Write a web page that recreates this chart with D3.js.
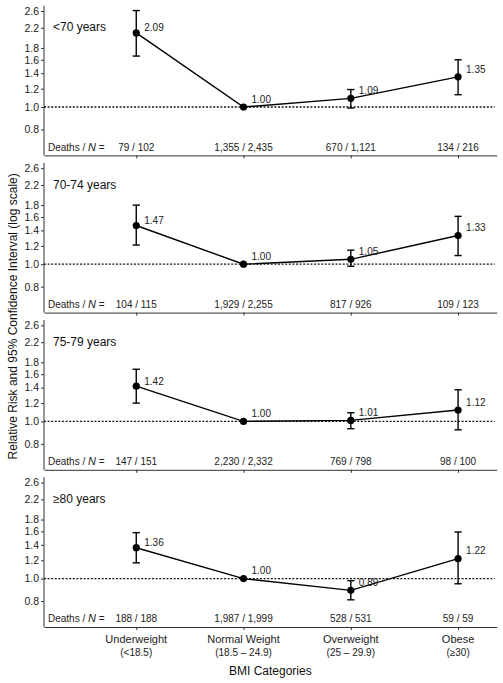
<!DOCTYPE html>
<html>
<head>
<meta charset="utf-8">
<script src="https://cdn.jsdelivr.net/npm/d3@7"></script>
<style>
  html, body { margin: 0; padding: 0; background: #fff; }
  svg { display: block; font-family: Arial, "Liberation Sans", sans-serif; }
</style>
</head>
<body>
<svg id="chart" width="503" height="683"></svg>
<script>
const categories = ["Underweight", "Normal Weight", "Overweight", "Obese"];
const categoryRanges = ["(<18.5)", "(18.5 \u2013 24.9)", "(25 \u2013 29.9)", "(\u226530)"];
const ageGroups = ["<70 years", "70-74 years", "75-79 years", "\u226580 years"];
const rr = [
  [2.09, 1.00, 1.09, 1.35],
  [1.47, 1.00, 1.05, 1.33],
  [1.42, 1.00, 1.01, 1.12],
  [1.36, 1.00, 0.89, 1.22]
];
const ciLow = [
  [1.66, 1.00, 0.99, 1.13],
  [1.21, 1.00, 0.98, 1.09],
  [1.20, 1.00, 0.93, 0.92],
  [1.17, 1.00, 0.81, 0.95]
];
const ciHigh = [
  [2.61, 1.00, 1.19, 1.60],
  [1.80, 1.00, 1.15, 1.61],
  [1.68, 1.00, 1.09, 1.37],
  [1.58, 1.00, 0.98, 1.59]
];
const deaths = [
  [79, 1355, 670, 134],
  [104, 1929, 817, 109],
  [147, 2230, 769, 98],
  [188, 1987, 528, 59]
];
const totals = [
  [102, 2435, 1121, 216],
  [115, 2255, 926, 123],
  [151, 2332, 798, 100],
  [188, 1999, 531, 59]
];
const yTicks = [0.8, 1.0, 1.2, 1.4, 1.6, 1.8, 2.2, 2.6];
const xTitle = "BMI Categories";
const yTitle = "Relative Risk and 95% Confidence Interval (log scale)";

const svg = d3.select("#chart");
const left = 44, right = 496.7;
const panelTop0 = 5.7, panelStep = 157.2, panelH = 149.7;

const x = d3.scaleLinear().domain([-0.86, 3.36]).range([left, right]);
const y = d3.scaleLog().domain([0.618, 2.74]).range([panelH, 0]);
const fmtN = d3.format(",");
const fmtR = d3.format(".2f");

ageGroups.forEach((age, p) => {
  const g = svg.append("g").attr("transform", `translate(0,${panelTop0 + p * panelStep})`);

  // y axis
  const yAxis = d3.axisLeft(y).tickValues(yTicks).tickFormat(d3.format(".1f")).tickSize(3).tickPadding(2);
  const ya = g.append("g").attr("transform", `translate(${left},0)`).call(yAxis);
  ya.select(".domain").attr("stroke", "#333").attr("d", `M0,0V${panelH}`);
  ya.selectAll(".tick line").attr("stroke", "#333");
  ya.selectAll(".tick text").attr("font-size", 10.5).attr("fill", "#222").attr("font-family", "Arial, 'Liberation Sans', sans-serif");

  // x axis
  const xAxis = d3.axisBottom(x).tickValues(d3.range(categories.length)).tickFormat("").tickSize(3).tickSizeOuter(0);
  const xa = g.append("g").attr("transform", `translate(0,${panelH})`).call(xAxis);
  xa.select(".domain").attr("stroke", "#333");
  xa.selectAll(".tick line").attr("stroke", "#333");

  // reference line
  g.append("line")
    .attr("x1", left).attr("x2", right - 2)
    .attr("y1", y(1)).attr("y2", y(1))
    .attr("stroke", "#111").attr("stroke-width", 1.3)
    .attr("stroke-dasharray", "2,1.6");

  // panel label
  g.append("text").attr("x", 53).attr("y", 25.8).attr("font-size", 12).attr("fill", "#111").text(age);

  // error bars
  categories.forEach((c, i) => {
    if (ciLow[p][i] === ciHigh[p][i]) return;
    const cx = x(i);
    g.append("line").attr("x1", cx).attr("x2", cx)
      .attr("y1", y(ciLow[p][i])).attr("y2", y(ciHigh[p][i]))
      .attr("stroke", "#000").attr("stroke-width", 1.4);
    [ciLow[p][i], ciHigh[p][i]].forEach(v => {
      g.append("line").attr("x1", cx - 3.6).attr("x2", cx + 3.6)
        .attr("y1", y(v)).attr("y2", y(v))
        .attr("stroke", "#000").attr("stroke-width", 1.4);
    });
  });

  // line
  const line = d3.line().x((d, i) => x(i)).y(d => y(d));
  g.append("path").datum(rr[p]).attr("d", line)
    .attr("fill", "none").attr("stroke", "#000").attr("stroke-width", 1.4);

  // points
  g.selectAll("circle.pt").data(rr[p]).enter().append("circle")
    .attr("cx", (d, i) => x(i)).attr("cy", d => y(d)).attr("r", 3.6).attr("fill", "#000");

  // value labels
  g.selectAll("text.val").data(rr[p]).enter().append("text")
    .attr("x", (d, i) => x(i) + 8).attr("y", (d, i) => y(d) - (i === 0 ? 1.5 : 4.2))
    .attr("font-size", 10).attr("fill", "#222").text(d => fmtR(d));

  // deaths / N row
  const dl = g.append("text").attr("x", 48).attr("y", panelH - 4.5).attr("font-size", 10).attr("fill", "#222");
  dl.append("tspan").text("Deaths / ");
  dl.append("tspan").attr("font-style", "italic").attr("font-size", 11).text("N");
  dl.append("tspan").text(" =");
  categories.forEach((c, i) => {
    g.append("text").attr("x", x(i)).attr("y", panelH - 4.5).attr("text-anchor", "middle")
      .attr("font-size", 10).attr("fill", "#222")
      .text(`${fmtN(deaths[p][i])} / ${fmtN(totals[p][i])}`);
  });
});

// x category labels
const bottom = panelTop0 + 3 * panelStep + panelH;
categories.forEach((c, i) => {
  svg.append("text").attr("x", x(i)).attr("y", bottom + 16).attr("text-anchor", "middle")
    .attr("font-size", 11).attr("fill", "#222").text(c);
  svg.append("text").attr("x", x(i)).attr("y", bottom + 29).attr("text-anchor", "middle")
    .attr("font-size", 10).attr("fill", "#222").text(categoryRanges[i]);
});

svg.append("text").attr("x", (left + right) / 2).attr("y", bottom + 47.5).attr("text-anchor", "middle")
  .attr("font-size", 12).attr("fill", "#111").text(xTitle);

svg.append("text")
  .attr("transform", `translate(17,${(panelTop0 + bottom) / 2}) rotate(-90)`)
  .attr("text-anchor", "middle").attr("font-size", 12).attr("fill", "#111").text(yTitle);
</script>
</body>
</html>
